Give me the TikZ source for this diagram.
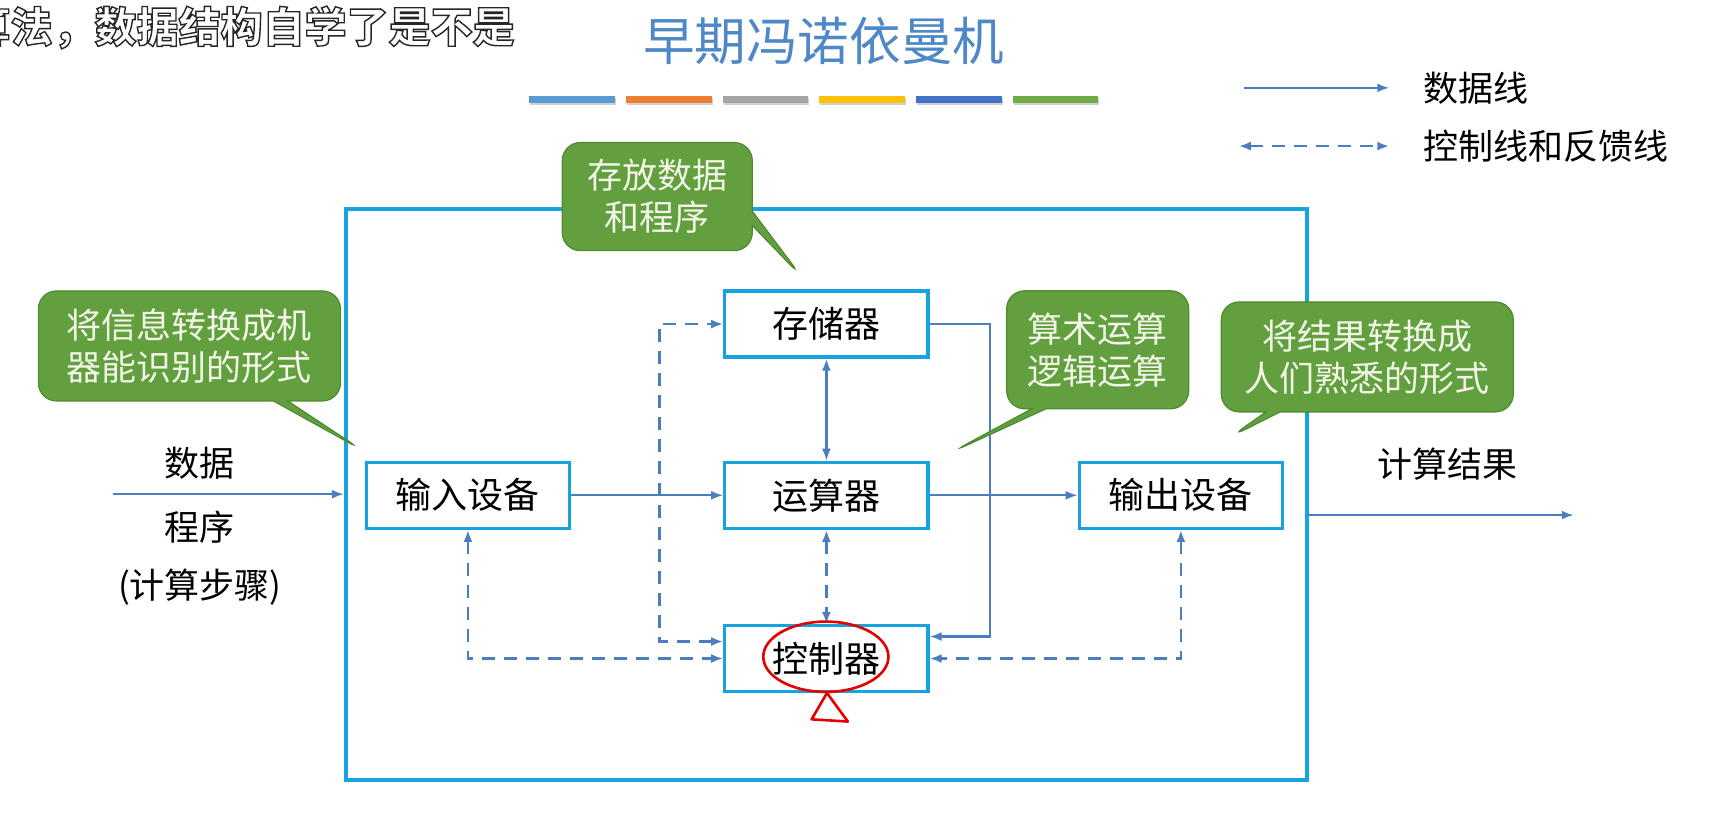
\documentclass[tikz,border=0pt]{standalone}
\usepackage{fontspec}
\setmainfont{Noto Sans CJK SC}
\usetikzlibrary{arrows.meta, positioning, shapes.callouts}

\definecolor{titleblue}{HTML}{4F88C6}
\definecolor{linkblue}{HTML}{4A7EBF}
\definecolor{frameblue}{HTML}{17A2E0}
\definecolor{tipgreen}{HTML}{62A03F}
\definecolor{tipedge}{HTML}{4E8A30}
\definecolor{tiptext}{HTML}{F3F5E8}
\definecolor{barA}{HTML}{5B9BD5}
\definecolor{barB}{HTML}{ED7D31}
\definecolor{barC}{HTML}{A5A5A5}
\definecolor{barD}{HTML}{FFC000}
\definecolor{barE}{HTML}{4472C4}
\definecolor{barF}{HTML}{70AD47}
% white letters with a dark rim, as the subtitle shows
\newcommand\rimtext[1]{\color{white}\special{pdf:literal 0.15 G 2 Tr 0.7 w}#1\special{pdf:literal 0 Tr}}

\begin{document}
\begin{tikzpicture}[
  x=0.549pt, y=-0.549pt,
  unit/.style={draw=frameblue, line width=1.6pt, fill=white, minimum width=101.6pt,
               minimum height=33pt, inner sep=0pt, font=\fontsize{18pt}{20pt}\selectfont},
  bubble/.style={rectangle callout, fill=tipgreen, draw=tipedge, line width=0.6pt,
                 rounded corners=9pt, text=tiptext, align=center, inner sep=0pt,
                 font=\fontsize{17.5pt}{21pt}\selectfont},
  lbl/.style={font=\fontsize{17.5pt}{20pt}\selectfont},
  dline/.style={draw=linkblue, line width=1.1pt, -{Latex[length=6pt,width=4.5pt]}},
  cline/.style={draw=linkblue, line width=1.3pt, dash pattern=on 6.5pt off 4.5pt,
                {Latex[length=6pt,width=4.5pt]}-{Latex[length=6pt,width=4.5pt]}}
]
  \useasboundingbox (0,0) rectangle (1568,740);

  % caption and title
  \node[anchor=west, inner sep=0pt,
        font=\fontsize{21pt}{24pt}\selectfont\bfseries] (caption) at (-29,25)
        {\rimtext{算法，数据结构自学了是不是}};
  \node[text=titleblue, font=\fontsize{25.8pt}{28pt}\selectfont] (title) at (750,37) {早期冯诺依曼机};
  \foreach \c [count=\i from 0] in {barA, barB, barC, barD, barE, barF} {
    \fill[black!18] (483+\i*88,89) rectangle ++(78,7);
    \fill[\c] (482+\i*88,87) rectangle ++(78,7);
  }

  % legend
  \coordinate (ds) at (1133,80);
  \coordinate (de) at (1265,80);
  \coordinate (cs) at (1128,133);
  \coordinate (ce) at (1265,133);
  \draw[dline] (ds) -- (de);
  \draw[cline] (cs) -- (ce);
  \node[lbl, anchor=west] (lgData) at (1290,80) {数据线};
  \node[lbl, anchor=west] (lgCtrl) at (1290,133) {控制线和反馈线};

  % host frame and units
  \node[draw=frameblue, line width=2pt, minimum width=480.4pt, minimum height=285.5pt,
        inner sep=0pt] (cpu) at (752.5,450) {};
  \node[unit] (alu) at (752.5,451) {运算器};
  \node[unit, above=51pt of alu] (mem) {存储器};
  \node[unit, below=47pt of alu] (ctl) {控制器};
  \node[unit, left=76pt of alu] (inp) {输入设备};
  \node[unit, right=74pt of alu] (outp) {输出设备};

  % data lines
  \coordinate (src) at (103,450);
  \coordinate (dst) at (1433,469);
  \draw[dline] (src) -- (src -| cpu.west);
  \draw[dline] (dst -| cpu.east) -- (dst);
  \draw[dline] (inp) -- (alu);
  \draw[dline] (alu) -- (outp);
  \draw[dline, {Latex[length=6pt,width=4.5pt]}-{Latex[length=6pt,width=4.5pt]}] (mem) -- (alu);
  \draw[dline] (mem.east) -- ++(55,0) |- ([yshift=11pt]ctl.east);

  % control and feedback lines
  \draw[cline] (alu) -- (ctl);
  \draw[cline] ([yshift=8.5pt]ctl.west) -- ++(-58,0) |- (mem.west);
  \draw[cline] (inp.south) |- (ctl.west);
  \draw[cline] (outp.south) |- (ctl.east);

  \node[lbl] (inData) at (182,422) {数据};
  \node[lbl] (inProg) at (182,480) {程序};
  \node[lbl] (inStep) at (182,535) {(计算步骤)};
  \node[lbl] (outRes) at (1318,423) {计算结果};

  % callouts
  \node[bubble, minimum width=95pt, minimum height=54pt,
        callout absolute pointer={(730,252)}] (noteMem) at (598.5,179) {存放数据\\和程序};
  \node[bubble, minimum width=151pt, minimum height=55pt,
        callout absolute pointer={(330,410)}] (noteIn) at (172.5,315) {将信息转换成机\\器能识别的形式};
  \node[bubble, minimum width=91pt, minimum height=59pt,
        callout absolute pointer={(866,412)}] (noteAlu) at (999.5,318.5) {算术运算\\逻辑运算};
  \node[bubble, minimum width=146pt, minimum height=55pt,
        callout absolute pointer={(1120,398)}] (noteOut) at (1245,325) {将结果转换成\\人们熟悉的形式};

  % red pen marks
  \draw[red!90!black, line width=1.3pt] (752,598) ellipse [x radius=57, y radius=32];
  \draw[red!90!black, line width=1.3pt, line join=round] (753,631) -- (739,655) -- (772,657) -- cycle;
\end{tikzpicture}
\end{document}
